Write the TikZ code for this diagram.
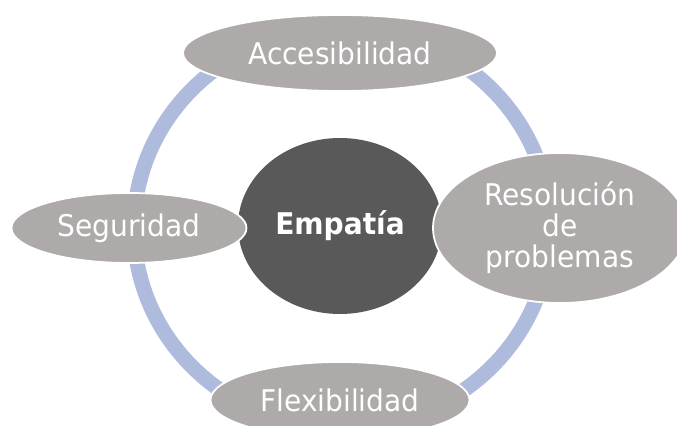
\documentclass[tikz,border=0pt]{standalone}
\usepackage{fontspec}
\setmainfont{DejaVu Sans}[FakeStretch=0.94]
\usetikzlibrary{shapes.geometric}
\definecolor{ringblue}{RGB}{174,187,221}
\definecolor{petal}{RGB}{173,170,169}
\definecolor{hubgray}{RGB}{89,89,89}

\begin{document}
\begin{tikzpicture}[
   item/.style={ellipse,fill=petal,draw=white,line width=1pt,text=white,
      inner sep=0pt,align=center,font=\fontsize{17}{17.6}\selectfont},
   hub/.style={ellipse,fill=hubgray,text=white,inner sep=0pt,
      font=\bfseries\fontsize{17}{17.6}\selectfont},
   ring/.style={ringblue,line width=0.3cm}]
   \useasboundingbox (-6.8,-3.96) rectangle (6.74,4.56);

   \draw[ring] (0.04,0) ellipse (4.16cm and 4cm);

   \node[hub,minimum width=4.08cm,minimum height=3.52cm] (emp) at (0,0.04) {Empatía};

   \node[item,minimum width=6.28cm,minimum height=1.52cm] (acc) at (90:3.5cm) {Accesibilidad};
   \node[item,minimum width=4.7cm,minimum height=1.4cm] (seg) at (180:4.22cm) {Seguridad};
   \node[item,minimum width=5.08cm,minimum height=3cm] (res) at (0:4.4cm) {Resolución\\de\\problemas};
   \node[item,minimum width=5.18cm,minimum height=1.52cm] (flex) at (270:3.44cm) {Flexibilidad};

\end{tikzpicture}
\end{document}
